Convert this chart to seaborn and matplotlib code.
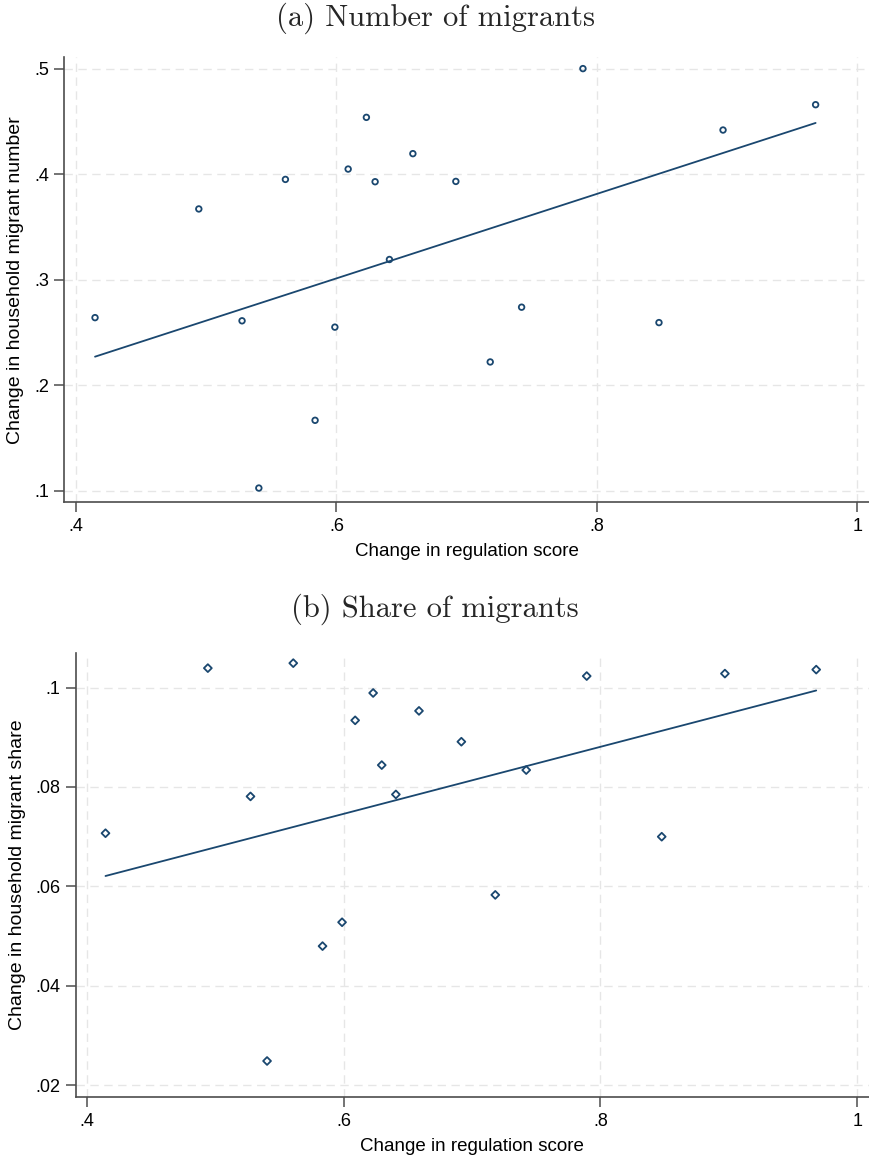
import matplotlib
matplotlib.use("Agg")
import matplotlib.pyplot as plt
import seaborn as sns
import numpy as np
import pandas as pd

# Data
reg_change = [0.4146, 0.4943, 0.5275, 0.5404, 0.5608, 0.5836, 0.5988, 0.6090, 0.6230,
              0.6297, 0.6407, 0.6587, 0.6917, 0.7893, 0.7181, 0.7422, 0.8477, 0.8969, 0.9680]
migrant_number = [0.264, 0.367, 0.261, 0.1025, 0.395, 0.1667, 0.255, 0.4048, 0.4538,
                  0.3928, 0.3191, 0.4194, 0.3931, 0.500, 0.222, 0.2739, 0.2593, 0.4418, 0.4658]
migrant_share = [0.0707, 0.1039, 0.0781, 0.0249, 0.1049, 0.0480, 0.0528, 0.0934, 0.0989,
                 0.0844, 0.0785, 0.0953, 0.0891, 0.1023, 0.0583, 0.0834, 0.0700, 0.1028, 0.1036]

# Fitted line endpoints (fit as shown in the picture)
fit_x = [0.4146, 0.9680]
fit_number = [0.2270, 0.4485]
fit_share = [0.0621, 0.0994]

x_ticks = [0.4, 0.6, 0.8, 1.0]
x_ticklabels = [".4", ".6", ".8", "1"]
y_ticks_a = [0.1, 0.2, 0.3, 0.4, 0.5]
y_ticklabels_a = [".1", ".2", ".3", ".4", ".5"]
y_ticks_b = [0.02, 0.04, 0.06, 0.08, 0.10]
y_ticklabels_b = [".02", ".04", ".06", ".08", ".1"]

df = pd.DataFrame({"reg": reg_change, "num": migrant_number, "share": migrant_share})
fit_df = pd.DataFrame({"reg": fit_x, "num": fit_number, "share": fit_share})

sns.set_theme(style="white")
plt.rcParams["font.family"] = ["Liberation Sans", "DejaVu Sans"]

COLOR = "#1a476f"
SPINE = "#4d4d4d"
GRID = "#e6e6e6"

fig = plt.figure(figsize=(8.69, 11.58), dpi=100)
W, H = 869, 1158

def axes_px(left, top, right, bottom):
    return fig.add_axes([left / W, 1 - bottom / H, (right - left) / W, (bottom - top) / H])

ax1 = axes_px(64.3, 57, 869, 502.3)
ax2 = axes_px(75.7, 652.7, 869, 1097.3)

def style(ax, yticks, yticklabels, xlim, ylim, ylabel):
    ax.set_xlim(*xlim)
    ax.set_ylim(*ylim)
    ax.set_xticks(x_ticks)
    ax.set_xticklabels(x_ticklabels)
    ax.set_yticks(yticks)
    ax.set_yticklabels(yticklabels)
    ax.grid(True, color=GRID, linestyle=(0, (6, 4)), linewidth=1.0)
    ax.set_axisbelow(True)
    for s in ["top", "right"]:
        ax.spines[s].set_visible(False)
    for s in ["left", "bottom"]:
        ax.spines[s].set_color(SPINE)
        ax.spines[s].set_linewidth(1.2)
    ax.tick_params(axis="both", which="major", length=7, width=1.1, color=SPINE,
                   labelsize=13, labelcolor="black", pad=4, left=True, bottom=True)
    ax.set_xlabel("Change in regulation score", fontsize=13.5, labelpad=6, color="black")
    ax.set_ylabel(ylabel, fontsize=14, labelpad=7, color="black")

sc_kws = {"s": 16, "facecolors": "none", "edgecolors": COLOR, "linewidths": 1.3}

sns.scatterplot(data=df, x="reg", y="num", ax=ax1, marker="o", **sc_kws)
sns.lineplot(data=fit_df, x="reg", y="num", ax=ax1, color=COLOR, linewidth=1.3)
style(ax1, y_ticks_a, y_ticklabels_a, (0.391, 1.009), (0.089, 0.511),
      "Change in household migrant number")

sns.scatterplot(data=df, x="reg", y="share", ax=ax2, marker="D", **sc_kws)
sns.lineplot(data=fit_df, x="reg", y="share", ax=ax2, color=COLOR, linewidth=1.3)
style(ax2, y_ticks_b, y_ticklabels_b, (0.3914, 1.0091), (0.0176, 0.107),
      "Change in household migrant share")

fig.text(435 / W, 1 - 18 / H, "(a) Number of migrants", family="cmr10", fontsize=22,
         ha="center", va="center")
fig.text(435 / W, 1 - 609 / H, "(b) Share of migrants", family="cmr10", fontsize=22,
         ha="center", va="center")

fig.savefig("out.png", dpi=100, facecolor="white")
